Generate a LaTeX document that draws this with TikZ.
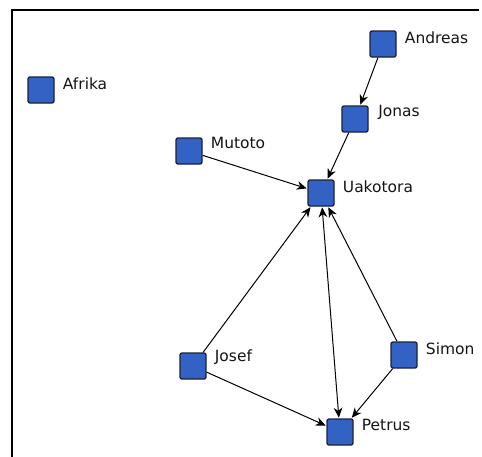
\documentclass[tikz,border=0pt]{standalone}
\usepackage{fontspec}
\setmainfont{DejaVu Sans}
\usetikzlibrary{arrows.meta}
\definecolor{boxblue}{RGB}{50,98,196}
\definecolor{boxedge}{RGB}{28,32,60}
\definecolor{labelgray}{RGB}{20,20,24}
\tikzset{
  person/.style={draw=boxedge, fill=boxblue, line width=1pt, rounded corners=1.5pt,
    minimum size=19.5pt, inner sep=0pt},
  personname/.style={anchor=west, inner sep=0pt, text=labelgray,
    font=\fontsize{11.6pt}{13pt}\selectfont},
  tip/.style={-{Stealth[length=7.5pt,width=6.5pt]}},
  link/.style={draw=black, line width=0.75pt, tip, shorten >=0.5pt},
  outline/.style={draw=black, line width=1.6pt}
}
\begin{document}
\begin{tikzpicture}[x=0.75pt,y=-0.75pt]
  \useasboundingbox (0,0) rectangle (482,457);
  % open frame: top and left edges
  \coordinate (ftr) at (479,10);
  \coordinate (ftl) at (12,10);
  \coordinate (fbl) at (12,457);
  \draw[outline] (ftr) -- (ftl) -- (fbl);

  % people
  \node[person] (andreas) at (383,44) {};
  \node[person] (afrika)  at (41,90) {};
  \node[person] (jonas)   at (355,119) {};
  \node[person] (mutoto)  at (189,151) {};
  \node[person] (uakotora) at (321,193) {};
  \node[person] (josef)   at (193,366) {};
  \node[person] (simon)   at (404,355) {};
  \node[person] (petrus)  at (340,432) {};

  % names
  \node[personname] (andreas-n)  at ([xshift=6pt,yshift=5pt]andreas.east)  {Andreas};
  \node[personname] (afrika-n)   at ([xshift=6pt,yshift=5pt]afrika.east)   {Afrika};
  \node[personname] (jonas-n)    at ([xshift=7pt,yshift=5pt]jonas.east)    {Jonas};
  \node[personname] (mutoto-n)   at ([xshift=6pt,yshift=6pt]mutoto.east)   {Mutoto};
  \node[personname] (uakotora-n) at ([xshift=6pt,yshift=5pt]uakotora.east) {Uakotora};
  \node[personname] (josef-n)    at ([xshift=6pt,yshift=7pt]josef.east)    {Josef};
  \node[personname] (simon-n)    at ([xshift=6pt,yshift=5pt]simon.east)    {Simon};
  \node[personname] (petrus-n)   at ([xshift=6pt,yshift=5pt]petrus.east)   {Petrus};

  % relations
  \draw[link] (andreas) -- (jonas);
  \draw[link] (jonas) -- (uakotora);
  \draw[link] (mutoto) -- (uakotora);
  \draw[link] (josef) -- (uakotora);
  \draw[link] (josef) -- (petrus);
  \draw[link] (simon) -- (uakotora);
  \draw[link] (simon) -- (petrus);
  \draw[link, {Stealth[length=7.5pt,width=6.5pt]}-{Stealth[length=7.5pt,width=6.5pt]}, shorten <=0.5pt] (uakotora) -- (petrus);
\end{tikzpicture}
\end{document}
